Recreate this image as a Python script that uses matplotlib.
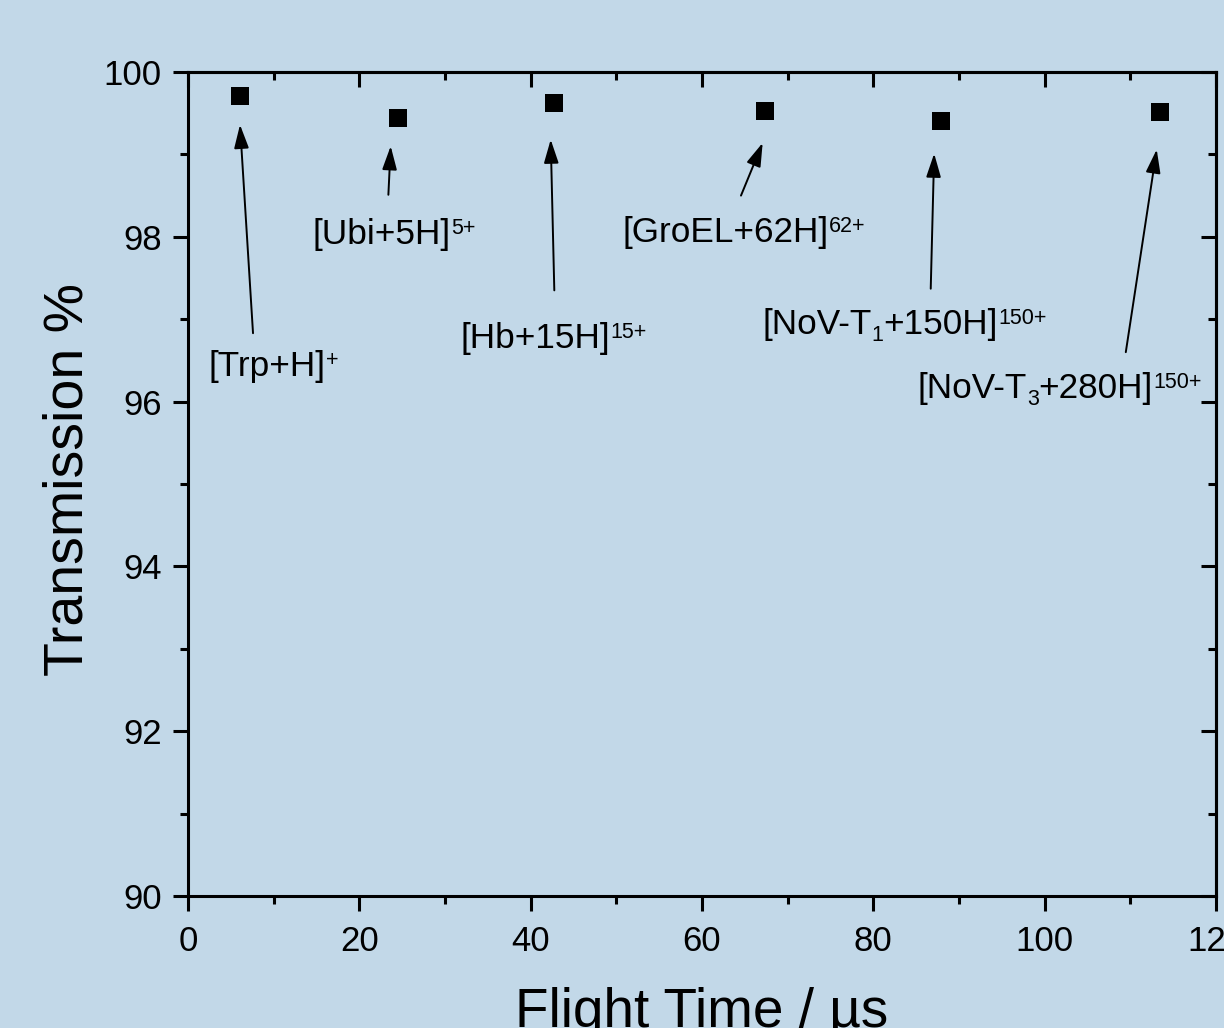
import matplotlib
matplotlib.use("Agg")
import matplotlib.pyplot as plt
from matplotlib.ticker import MultipleLocator

plt.rcParams["font.family"] = ["Liberation Sans", "DejaVu Sans"]

# Measured transmission for each ion
flight_time = [6.07, 24.57, 42.72, 67.35, 87.9, 113.46]          # µs
transmission = [99.71, 99.44, 99.62, 99.53, 99.41, 99.52]         # %

# Ion labels: pieces drawn in sequence (normal / superscript / subscript)
ion_labels = [
    [("[Trp+H]", "n"), ("+", "sup")],
    [("[Ubi+5H]", "n"), ("5+", "sup")],
    [("[Hb+15H]", "n"), ("15+", "sup")],
    [("[GroEL+62H]", "n"), ("62+", "sup")],
    [("[NoV-T", "n"), ("1", "sub"), ("+150H]", "n"), ("150+", "sup")],
    [("[NoV-T", "n"), ("3", "sub"), ("+280H]", "n"), ("150+", "sup")],
]

# Label anchors (left edge, baseline) and arrow geometry, in data units
label_pos = [(2.40, 96.31), (14.54, 97.91), (31.82, 96.65),
             (50.73, 97.94), (67.07, 96.82), (85.16, 96.04)]
arrow_tail = [(7.59, 96.83), (23.39, 98.51), (42.76, 97.35),
              (64.55, 98.50), (86.70, 97.37), (109.47, 96.60)]
arrow_tip = [(6.07, 99.36), (23.66, 99.10), (42.34, 99.18),
             (67.08, 99.14), (87.10, 99.01), (113.08, 99.06)]

x_ticks = [0, 20, 40, 60, 80, 100, 120]
y_ticks = [90, 92, 94, 96, 98, 100]

BG = "#c2d8e8"
LABEL_SIZE = 25.3
SMALL_SIZE = 15.5


def rich_label(ax, xy, parts):
    """Draw a label made of normal, superscript and subscript pieces."""
    first = ax.text(xy[0], xy[1], parts[0][0], fontsize=LABEL_SIZE,
                    ha="left", va="baseline", color="black")
    prev, base = first, first
    for text, kind in parts[1:]:
        if kind == "n":
            t = ax.annotate(text, xy=(1, 0), xycoords=(prev, base),
                            ha="left", va="bottom", fontsize=LABEL_SIZE)
            base = t
        elif kind == "sup":
            t = ax.annotate(text, xy=(1, 1), xycoords=(prev, base),
                            ha="left", va="top", fontsize=SMALL_SIZE)
        else:
            t = ax.annotate(text, xy=(1, 0), xycoords=(prev, base),
                            ha="left", va="baseline", fontsize=SMALL_SIZE)
        prev = t


fig = plt.figure(figsize=(12.24, 10.28), dpi=100, facecolor=BG)
ax = fig.add_axes([188 / 1224, 1 - 896 / 1028, 1028 / 1224, 824 / 1028])
ax.set_facecolor(BG)

ax.plot(flight_time, transmission, linestyle="none", marker="s",
        markersize=13, markeredgewidth=0, color="black", zorder=5)

ax.set_xlim(0, 120)
ax.set_ylim(90, 100)
ax.set_xticks(x_ticks)
ax.set_yticks(y_ticks)
ax.xaxis.set_minor_locator(MultipleLocator(10))
ax.yaxis.set_minor_locator(MultipleLocator(1))

ax.tick_params(which="both", direction="out", width=2.2, colors="black",
               labelsize=25, top=False, right=False)
ax.tick_params(which="major", length=11)
ax.tick_params(which="minor", length=5.5)
ax.tick_params(axis="x", which="major", pad=10)
ax.tick_params(axis="y", which="major", pad=8)
for sp in ax.spines.values():
    sp.set_linewidth(2.2)

# Inward ticks on the top and right edges
top = ax.secondary_xaxis("top")
top.set_xticks(x_ticks)
top.xaxis.set_minor_locator(MultipleLocator(10))
right = ax.secondary_yaxis("right")
right.set_yticks(y_ticks)
right.yaxis.set_minor_locator(MultipleLocator(1))
for sec in (top, right):
    sec.tick_params(which="both", direction="in", width=2.2,
                    labeltop=False, labelright=False,
                    labelbottom=False, labelleft=False)
    sec.tick_params(which="major", length=11)
    sec.tick_params(which="minor", length=5.5)
    for sp in sec.spines.values():
        sp.set_linewidth(2.2)

ax.set_xlabel("Flight Time / µs", fontsize=39.5)
ax.xaxis.set_label_coords(0.5, (896 - 1027) / 824)
ax.xaxis.label.set_va("baseline")
ax.set_ylabel("Transmission %", fontsize=40)
ax.yaxis.set_label_coords((83 - 188) / 1028, (896 - 480) / 824)
ax.yaxis.label.set_va("baseline")

for tail, tip in zip(arrow_tail, arrow_tip):
    ax.annotate("", xy=tip, xytext=tail,
                arrowprops=dict(arrowstyle="-|>,head_length=0.8,head_width=0.25",
                                mutation_scale=18, lw=1.4, color="black",
                                shrinkA=0, shrinkB=0))

for pos, parts in zip(label_pos, ion_labels):
    rich_label(ax, pos, parts)

fig.savefig("out.png", dpi=100, facecolor=BG)
